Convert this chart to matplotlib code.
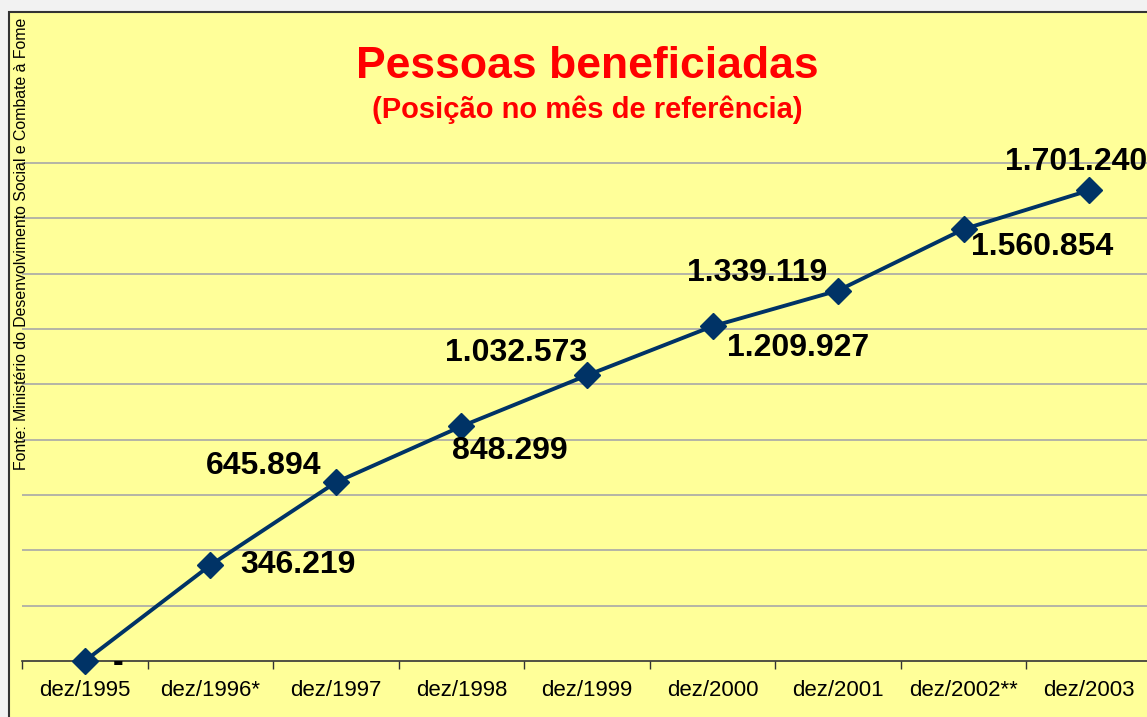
import matplotlib
matplotlib.use("Agg")
import matplotlib.pyplot as plt
from matplotlib.patches import Rectangle
from matplotlib.ticker import FixedLocator, NullFormatter

categories = ["dez/1995", "dez/1996*", "dez/1997", "dez/1998", "dez/1999",
              "dez/2000", "dez/2001", "dez/2002**", "dez/2003"]
values = [0, 346219, 645894, 848299, 1032573, 1209927, 1339119, 1560854, 1701240]
value_labels = ["-", "346.219", "645.894", "848.299", "1.032.573", "1.209.927",
                "1.339.119", "1.560.854", "1.701.240"]
# label offsets in pixels (dx, dy) and horizontal alignment
label_pos = [(33, -2, "center"), (30, 0, "left"), (-15, 16, "right"), (-9, -25, "left"),
             (0, 22, "right"), (14, -22, "left"), (-11, 18, "right"), (7, -18, "left"),
             (-13, 28, "center")]

W, H = 1147, 717
plt.rcParams["font.family"] = ["Liberation Sans", "DejaVu Sans"]
fig = plt.figure(figsize=(W / 100, H / 100), dpi=100, facecolor="#F2F2F2")

YELLOW = "#FFFF99"
bg = Rectangle((9 / W, -0.1), 1.2, (H - 12) / H + 0.1, transform=fig.transFigure,
               facecolor=YELLOW, edgecolor="#333333", linewidth=1.5, zorder=-10)
fig.patches.append(bg)

ax_top_px = 158
ax = fig.add_axes([22 / W, (H - 661) / H, (1152 - 22) / W, (661 - ax_top_px) / H])
ax.set_facecolor("none")
x = list(range(len(categories)))
ax.plot(x, values, color="#003366", linewidth=2.8, marker="D", markersize=13,
        markeredgecolor="#003366", markerfacecolor="#003366", zorder=3, clip_on=False)

ax.set_xlim(-0.5, len(categories) - 0.5)
ax.set_ylim(0, 1800000 * (661 - ax_top_px) / (661 - 163))
ax.set_yticks(range(200000, 1800001, 200000))
ax.yaxis.grid(True, color="#A8A8A8", linewidth=1.2)
ax.tick_params(axis="y", left=False, labelleft=False)
ax.set_axisbelow(True)

ax.xaxis.set_major_locator(FixedLocator([i - 0.5 for i in range(len(categories) + 1)]))
ax.xaxis.set_major_formatter(NullFormatter())
ax.set_xticks(x, minor=True)
ax.set_xticklabels(categories, minor=True, fontsize=16)
ax.tick_params(axis="x", which="major", direction="out", length=6, width=1, color="#333333")
ax.tick_params(axis="x", which="minor", length=0, pad=14)

for s in ["left", "top", "right"]:
    ax.spines[s].set_visible(False)
ax.spines["bottom"].set_color("#333333")
ax.spines["bottom"].set_linewidth(1.2)

for xi, v, lab, (dx, dy, ha) in zip(x, values, value_labels, label_pos):
    ax.annotate(lab, (xi, v), xytext=(dx * 0.72, dy * 0.72), textcoords="offset points",
                ha=ha, va="center", fontsize=23, fontweight="bold", color="black",
                annotation_clip=False, zorder=4)

fig.text(587 / W, 1 - 66 / H, "Pessoas beneficiadas", color="#FF0000", fontsize=32,
         fontweight="bold", ha="center", va="center")
fig.text(587 / W, 1 - 110 / H, "(Posição no mês de referência)", color="#FF0000",
         fontsize=21, fontweight="bold", ha="center", va="center")
fig.text(22 / W, 1 - 470 / H, "Fonte: Ministério do Desenvolvimento Social e Combate à Fome",
         rotation=90, ha="center", va="bottom", fontsize=11.4, color="black")

fig.savefig("out.png", dpi=100, facecolor=fig.get_facecolor())
